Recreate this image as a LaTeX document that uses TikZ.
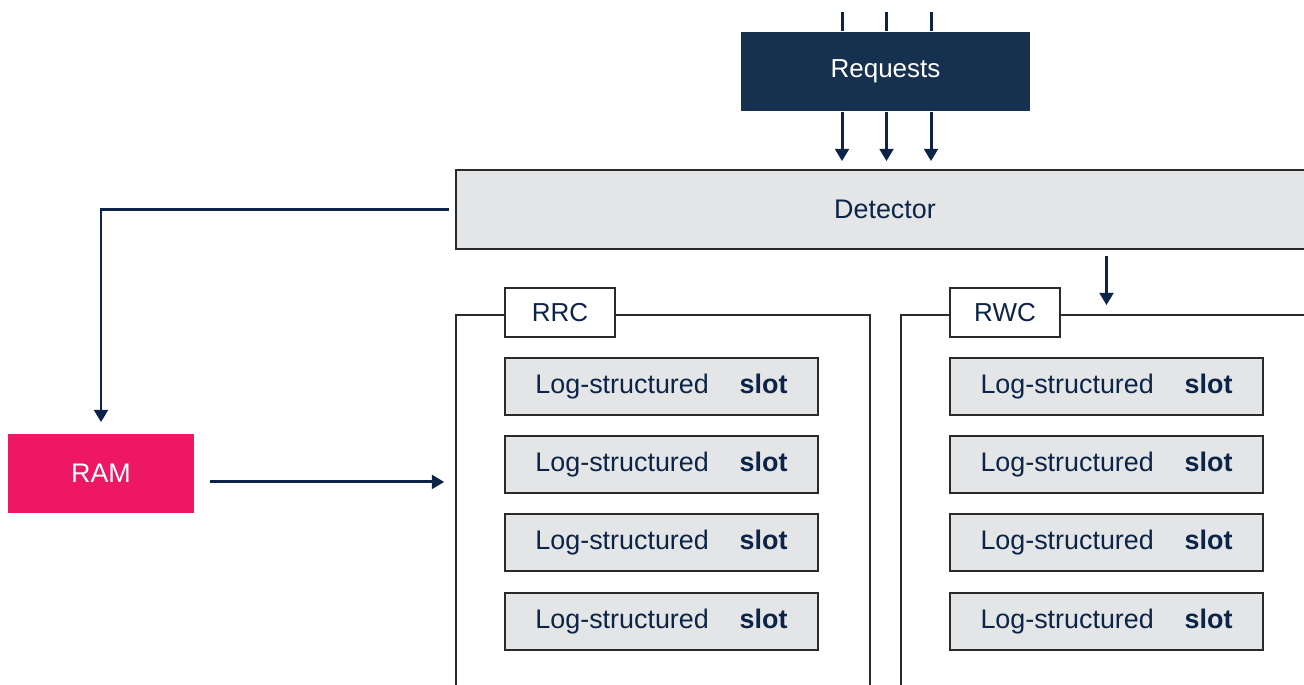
\documentclass[tikz,border=0pt]{standalone}
\usepackage{fontspec}
\setmainfont{Liberation Sans}
\usetikzlibrary{arrows.meta}
\definecolor{navy}{HTML}{16314F}
\definecolor{ink}{HTML}{0B2447}
\definecolor{rose}{HTML}{ED1763}
\definecolor{panel}{HTML}{E4E5E7}
\definecolor{rim}{HTML}{2A2A2A}
\newcommand\slotlabel{Log-structured\hspace{1.15em}\textbf{slot}}
\begin{document}
\begin{tikzpicture}[x=0.02cm, y=-0.02cm, line width=1.1pt,
  box/.style={draw=rim, fill=panel, text=ink, inner sep=0pt, font=\fontsize{15.3}{18}\selectfont},
  slotbox/.style={box, minimum width=6.26cm, minimum height=1.14cm},
  tabbox/.style={draw=rim, fill=white, text=ink, inner sep=0pt, minimum width=2.2cm, minimum height=0.98cm, font=\fontsize{14.8}{18}\selectfont},
  frame/.style={draw=rim, inner sep=0pt, minimum height=8.1cm},
  link/.style={draw=ink, line width=1.7pt},
  arr/.style={link, -{Triangle[width=7.8pt,length=7pt]}}]
  \clip (0,0) rectangle (1304,684);
  % top: requests and detector
  \node[fill=navy, text=white, minimum width=5.78cm, minimum height=1.58cm, font=\fontsize{14.8}{17}\selectfont] (req) at (885.5,71.5) {Requests};
  \node[box, minimum width=17.16cm, minimum height=1.58cm] (det) at (885,209.5) {Detector};
  \node[fill=rose, text=white, minimum width=3.72cm, minimum height=1.58cm, font=\fontsize{15.3}{18}\selectfont] (ram) at (101,473.5) {RAM};
  % the two caches
  \node[frame, minimum width=8.28cm] (rrcbox) at (663,517.5) {};
  \node[frame, minimum width=8.58cm] (rwcbox) at (1115.5,517.5) {};
  \node[tabbox] (rrc) at (560,312.5) {RRC};
  \node[tabbox] (rwc) at (1005,312.5) {RWC};
  \node[slotbox] (rrc1) at (661.5,386.5) {\slotlabel};
  \node[slotbox] (rrc2) at (661.5,464.5) {\slotlabel};
  \node[slotbox] (rrc3) at (661.5,542.5) {\slotlabel};
  \node[slotbox] (rrc4) at (661.5,621.5) {\slotlabel};
  \node[slotbox] (rwc1) at (1106.5,386.5) {\slotlabel};
  \node[slotbox] (rwc2) at (1106.5,464.5) {\slotlabel};
  \node[slotbox] (rwc3) at (1106.5,542.5) {\slotlabel};
  \node[slotbox] (rwc4) at (1106.5,621.5) {\slotlabel};
  % incoming requests
  \coordinate (q1) at (842,12);
  \coordinate (q2) at (886.5,12);
  \coordinate (q3) at (931,12);
  \draw[link] (q1) -- (q1 |- req.north);
  \draw[link] (q2) -- (q2 |- req.north);
  \draw[link] (q3) -- (q3 |- req.north);
  \draw[arr, shorten >=4.5pt] (q1 |- req.south) -- (q1 |- det.north);
  \draw[arr, shorten >=4.5pt] (q2 |- req.south) -- (q2 |- det.north);
  \draw[arr, shorten >=4.5pt] (q3 |- req.south) -- (q3 |- det.north);
  % detector outputs
  \draw[arr, shorten <=3.4pt, shorten >=6.2pt] (det.west) -| (ram.north);
  \draw[arr, shorten <=3.4pt, shorten >=5.1pt] (det.south -| rwc1) -- (rwc1 |- rwcbox.north);
  \draw[arr, shorten <=8.5pt, shorten >=6.2pt] ([yshift=-4.8pt]ram.east) -- ([yshift=-4.8pt]ram.east -| rrcbox.west);
\end{tikzpicture}
\end{document}
